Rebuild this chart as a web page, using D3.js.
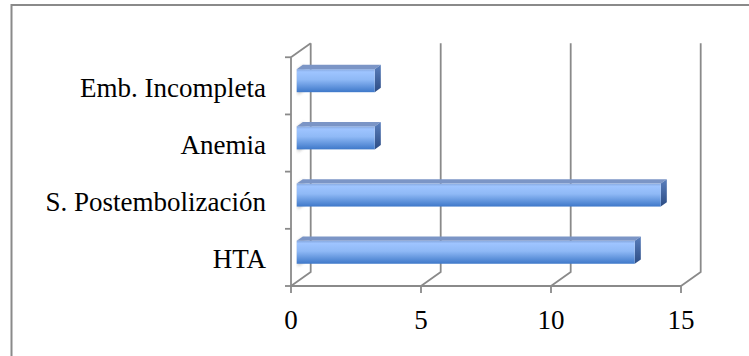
<!DOCTYPE html>
<html>
<head>
<meta charset="utf-8">
<script src="https://cdn.jsdelivr.net/npm/d3@7"></script>
<style>
  html, body { margin: 0; padding: 0; background: #fff; }
  svg { display: block; }
  text { font-family: "Liberation Serif", "Times New Roman", serif; fill: #000; }
</style>
</head>
<body>
<svg id="chart" width="749" height="356"></svg>
<script>
// Complications (count of cases), listed top to bottom
const categories = ["Emb. Incompleta", "Anemia", "S. Postembolización", "HTA"];
const values = [3, 3, 14, 13];
const xTicks = [0, 5, 10, 15];

const svg = d3.select("#chart");
const W = 749, H = 356;

// Plot box on the front plane
const plotLeft = 291, plotRight = 681, plotTop = 57.25, plotBottom = 286;
// Depth vector for the 3D back wall
const DX = 19.7, DY = -14;
const proj = (px, py, f) => [px + DX * f, py + DY * f];

const x = d3.scaleLinear().domain([0, 15]).range([plotLeft, plotRight]);
const y = d3.scaleBand().domain(categories).range([plotTop, plotBottom]).padding(0);

const gridColor = "#8a8a8a";

// Outer chart frame
svg.append("rect")
  .attr("x", 11.5).attr("y", 5).attr("width", W).attr("height", H)
  .attr("fill", "none").attr("stroke", gridColor).attr("stroke-width", 2);

const defs = svg.append("defs");
const gFront = defs.append("linearGradient").attr("id", "front")
  .attr("x1", 0).attr("y1", 0).attr("x2", 0).attr("y2", 1);
[["0%", "#86a8df"], ["12%", "#9ec4ff"], ["45%", "#8fb9f6"], ["100%", "#3e78c9"]]
  .forEach(([o, c]) => gFront.append("stop").attr("offset", o).attr("stop-color", c));
const gSide = defs.append("linearGradient").attr("id", "side")
  .attr("x1", 0).attr("y1", 0).attr("x2", 0).attr("y2", 1);
[["0%", "#5a7fbd"], ["100%", "#2c4c84"]]
  .forEach(([o, c]) => gSide.append("stop").attr("offset", o).attr("stop-color", c));
defs.append("filter").attr("id", "soft")
  .append("feGaussianBlur").attr("stdDeviation", 1.6);

// Walls and gridlines
const grid = svg.append("g").attr("fill", "none")
  .attr("stroke", gridColor).attr("stroke-width", 1.8);

xTicks.forEach(t => {
  const [bx, by] = proj(x(t), plotBottom, 1);
  grid.append("path")
    .attr("d", `M${x(t)},${plotBottom}L${bx},${by}L${bx},${plotTop + DY}`);
  grid.append("line")
    .attr("x1", x(t)).attr("x2", x(t))
    .attr("y1", plotBottom).attr("y2", plotBottom + 7);
});

// front floor edge
grid.append("line").attr("x1", plotLeft).attr("x2", plotRight)
  .attr("y1", plotBottom).attr("y2", plotBottom);
// left wall front edge and top edge
grid.append("line").attr("x1", plotLeft).attr("x2", plotLeft)
  .attr("y1", plotTop).attr("y2", plotBottom);
const [tx, ty] = proj(plotLeft, plotTop, 1);
grid.append("line").attr("x1", plotLeft).attr("y1", plotTop).attr("x2", tx).attr("y2", ty);

// category ticks
const bounds = categories.map(c => y(c)).concat([plotBottom]);
bounds.forEach(b => {
  grid.append("line").attr("x1", plotLeft - 6).attr("x2", plotLeft)
    .attr("y1", b).attr("y2", b);
});

// Bars
const f0 = 0.29, f1 = 0.6;
const barOff = 16, barH = 23;
const bars = svg.append("g");

categories.forEach((c, i) => {
  const v = values[i];
  const yT = y(c) + barOff, yB = yT + barH;
  const x0 = x(0), x1 = x(v);
  const pt = (xx, yy, f) => proj(xx, yy, f).join(",");

  // soft shadow on the left wall
  bars.append("polygon")
    .attr("points", [pt(x0 + 1, yT, f1), pt(x0 + 1, yT, f0), pt(x0 + 1, yB + 3, f0), pt(x0 + 1, yB + 3, f1 + 0.25)].join(" "))
    .attr("fill", "#9a9a9a").attr("opacity", 0.55).attr("filter", "url(#soft)");

  // top face
  bars.append("polygon")
    .attr("points", [pt(x0, yT, f0), pt(x1, yT, f0), pt(x1, yT, f1), pt(x0, yT, f1)].join(" "))
    .attr("fill", "#7b95c6");
  // side face
  bars.append("polygon")
    .attr("points", [pt(x1, yT, f0), pt(x1, yT, f1), pt(x1, yB, f1), pt(x1, yB, f0)].join(" "))
    .attr("fill", "url(#side)");
  // front face
  const [fx0, fy0] = proj(x0, yT, f0);
  const [fx1, fy1] = proj(x1, yB, f0);
  bars.append("rect")
    .attr("x", fx0).attr("y", fy0)
    .attr("width", fx1 - fx0).attr("height", fy1 - fy0)
    .attr("fill", "url(#front)");
});

// Category labels
svg.append("g").selectAll("text").data(categories).join("text")
  .attr("x", 266)
  .attr("y", c => y(c) + y.bandwidth() / 2 + 11)
  .attr("text-anchor", "end")
  .attr("font-size", 27)
  .text(c => c);

// Value axis labels
svg.append("g").selectAll("text").data(xTicks).join("text")
  .attr("x", t => x(t))
  .attr("y", 329)
  .attr("text-anchor", "middle")
  .attr("font-size", 27)
  .text(t => t);
</script>
</body>
</html>
